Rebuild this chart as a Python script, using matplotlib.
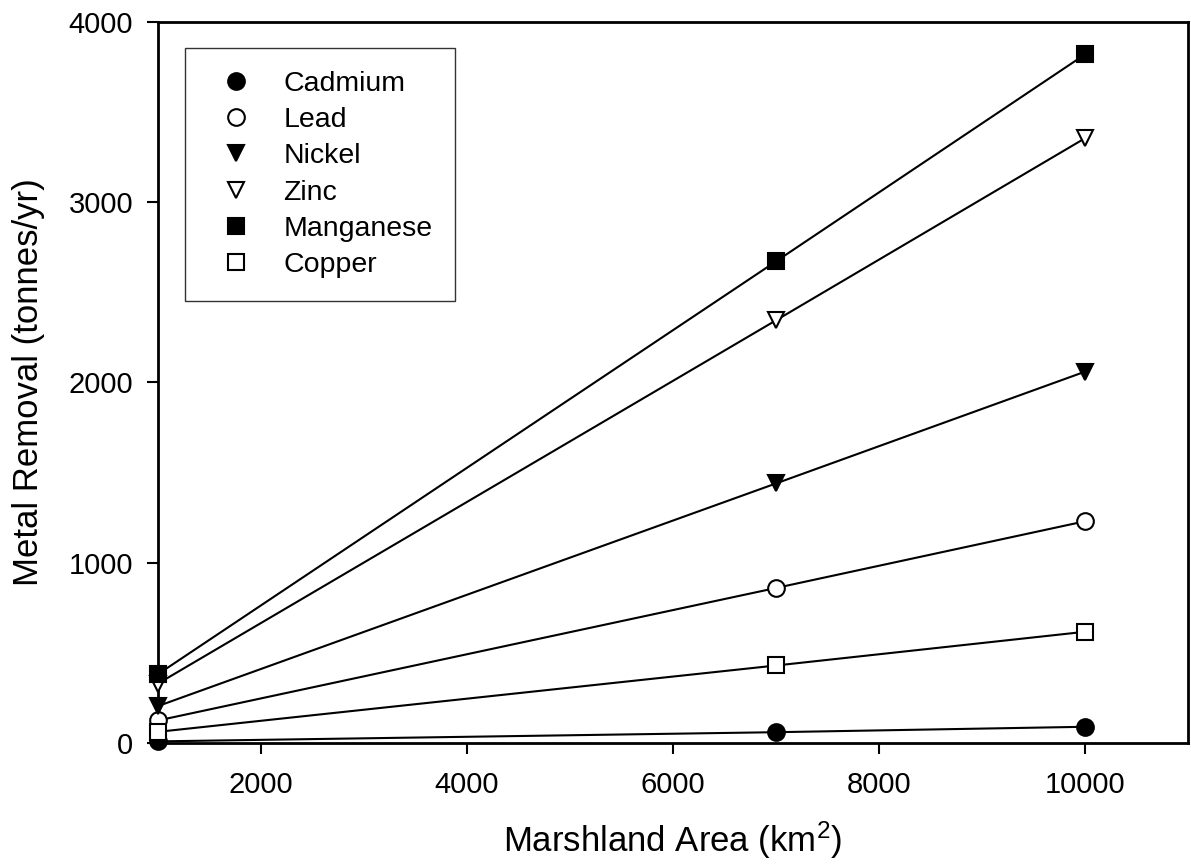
import matplotlib
matplotlib.use("Agg")
import matplotlib.pyplot as plt

plt.rcParams["font.family"] = ["Liberation Sans", "DejaVu Sans"]
plt.rcParams["mathtext.fontset"] = "custom"
plt.rcParams["mathtext.rm"] = "Liberation Sans"
plt.rcParams["mathtext.it"] = "Liberation Sans"

# marshland area (km2) and metal removal (tonnes/yr)
area = [1000, 7000, 10000]
cadmium = [9, 60, 90]
lead = [125, 860, 1230]
nickel = [205, 1440, 2060]
zinc = [330, 2345, 3355]
manganese = [382, 2672, 3820]
copper = [62, 430, 617]

series = [
    ("Cadmium", cadmium, "o", "black"),
    ("Lead", lead, "o", "white"),
    ("Nickel", nickel, "v", "black"),
    ("Zinc", zinc, "v", "white"),
    ("Manganese", manganese, "s", "black"),
    ("Copper", copper, "s", "white"),
]

fig = plt.figure(figsize=(11.91, 8.68), dpi=100)
ax = fig.add_axes([0.1327, 0.144, 0.8648, 0.8307])

for name, vals, mk, fc in series:
    ax.plot(area, vals, color="black", lw=1.5, marker=mk, markersize=12,
            markerfacecolor=fc, markeredgecolor="black", markeredgewidth=1.5,
            label=name, clip_on=False, zorder=3)

ax.set_xlim(1000, 11000)
ax.set_ylim(0, 4000)
ax.set_xticks([2000, 4000, 6000, 8000, 10000])
ax.set_yticks([0, 1000, 2000, 3000, 4000])

for sp in ax.spines.values():
    sp.set_linewidth(2)
ax.tick_params(direction="out", length=8, width=1.5, labelsize=21)
ax.tick_params(axis="x", pad=12)
ax.tick_params(axis="y", pad=10)

ax.set_xlabel(r"Marshland Area (km$^2$)", fontsize=25, labelpad=15)
ax.set_ylabel("Metal Removal (tonnes/yr)", fontsize=25, labelpad=17)

leg = ax.legend(loc="upper left", bbox_to_anchor=(185 / 1191, 1 - 48 / 868),
                bbox_transform=fig.transFigure, borderaxespad=0,
                fontsize=20.5, frameon=True, fancybox=False, shadow=False,
                handlelength=2.0, handletextpad=0.65, borderpad=0.8,
                labelspacing=0.36)
leg.get_frame().set_edgecolor("black")
leg.get_frame().set_linewidth(1.0)
for h in leg.legend_handles:
    h.set_linestyle("none")

fig.savefig("out.png", dpi=100)
